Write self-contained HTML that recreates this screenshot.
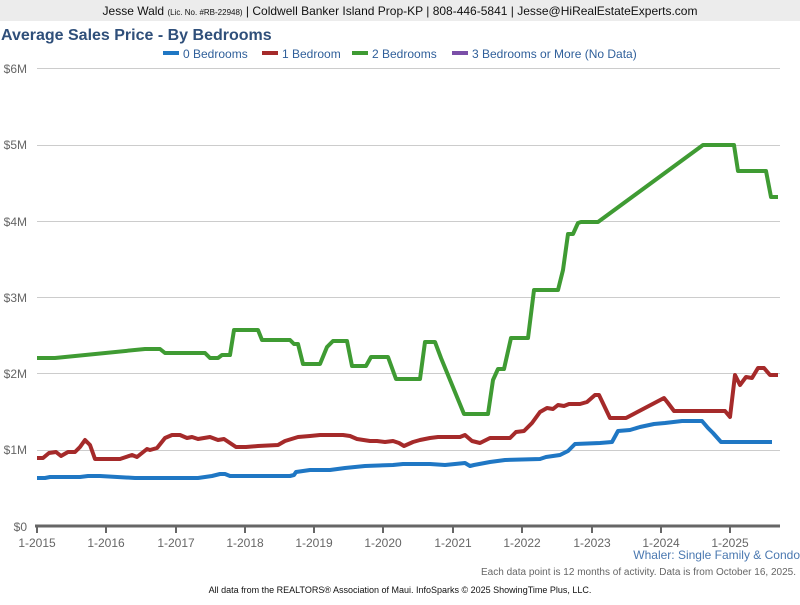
<!DOCTYPE html>
<html><head><meta charset="utf-8"><style>
body{margin:0;width:800px;height:600px;background:#fff;font-family:"Liberation Sans",Arial,sans-serif;overflow:hidden}
</style></head><body>
<svg width="800" height="600" xmlns="http://www.w3.org/2000/svg" font-family="Liberation Sans, Arial, sans-serif">
<rect x="0" y="0" width="800" height="21" fill="#ececec"/>
<text x="400" y="15" text-anchor="middle" font-size="12" fill="#111">Jesse Wald <tspan font-size="8">(Lic. No. #RB-22948)</tspan> | Coldwell Banker Island Prop-KP | 808-446-5841 | Jesse@HiRealEstateExperts.com</text>
<text x="1" y="40" font-size="16" font-weight="bold" fill="#2f4f7a">Average Sales Price - By Bedrooms</text>
<g font-size="12" fill="#2f5f9a">
<rect x="163" y="51" width="16" height="4" fill="#1f77c4"/><text x="183" y="58">0 Bedrooms</text>
<rect x="262" y="51" width="16" height="4" fill="#a52a2a"/><text x="282" y="58">1 Bedroom</text>
<rect x="352" y="51" width="16" height="4" fill="#3f9b33"/><text x="372" y="58">2 Bedrooms</text>
<rect x="452" y="51" width="16" height="4" fill="#7b4fa8"/><text x="472" y="58">3 Bedrooms or More (No Data)</text>
</g>
<g stroke="#ccc" stroke-width="1">
<line x1="37" y1="68.5" x2="780" y2="68.5"/><line x1="37" y1="145.5" x2="780" y2="145.5"/><line x1="37" y1="221.5" x2="780" y2="221.5"/><line x1="37" y1="297.5" x2="780" y2="297.5"/><line x1="37" y1="373.5" x2="780" y2="373.5"/><line x1="37" y1="450.5" x2="780" y2="450.5"/>
</g>
<g font-size="12" fill="#666" text-anchor="end">
<text x="27" y="73">$6M</text><text x="27" y="149">$5M</text><text x="27" y="226">$4M</text><text x="27" y="302">$3M</text><text x="27" y="378">$2M</text><text x="27" y="454">$1M</text><text x="27" y="531">$0</text>
</g>
<line x1="35" y1="526" x2="780" y2="526" stroke="#666" stroke-width="3"/>
<g stroke="#666" stroke-width="2">
<line x1="37" y1="526" x2="37" y2="533"/><line x1="106" y1="526" x2="106" y2="533"/><line x1="176" y1="526" x2="176" y2="533"/><line x1="245" y1="526" x2="245" y2="533"/><line x1="314" y1="526" x2="314" y2="533"/><line x1="383" y1="526" x2="383" y2="533"/><line x1="453" y1="526" x2="453" y2="533"/><line x1="522" y1="526" x2="522" y2="533"/><line x1="592" y1="526" x2="592" y2="533"/><line x1="661" y1="526" x2="661" y2="533"/><line x1="730" y1="526" x2="730" y2="533"/>
</g>
<g font-size="12" fill="#666" text-anchor="middle">
<text x="37" y="547">1-2015</text><text x="106" y="547">1-2016</text><text x="176" y="547">1-2017</text><text x="245" y="547">1-2018</text><text x="314" y="547">1-2019</text><text x="383" y="547">1-2020</text><text x="453" y="547">1-2021</text><text x="522" y="547">1-2022</text><text x="592" y="547">1-2023</text><text x="661" y="547">1-2024</text><text x="730" y="547">1-2025</text>
</g>
<g fill="none" stroke-width="4" stroke-linejoin="round">
<polyline stroke="#3f9b33" points="37,358 55,358 145,349 160,349 165,353 205,353 210,358 218,358 222,355 230,355 234,330 258,330 262,340 290,340 294,344 298,344 303,364 320,364 327,347 333,341 347,341 352,366 366,366 371,357 388,357 396,379 420,379 425,342 435,342 441,358 464,414 488,414 493,380 498,369 504,369 511,338 528,338 534,290 558,290 563,270 568,234 573,234 578,223 581,222 598,222 703,145 734,145 738,171 766,171 771,197 778,197"/>
<polyline stroke="#a52a2a" points="37,458 43,458 49,453 56,452 61,456 68,452 75,452 80,447 85,440 90,445 95,459 120,459 126,457 132,455 137,457 147,449 150,450 157,448 165,438 172,435 180,435 187,438 192,437 198,439 210,437 218,440 224,439 230,443 236,447 246,447 258,446 278,445 285,441 298,437 310,436 320,435 343,435 350,436 357,439 370,441 377,441 385,442 393,441 399,443 404,446 413,442 420,440 430,438 438,437 460,437 465,435 472,441 480,443 490,438 510,438 516,432 524,431 532,423 540,412 547,408 553,409 558,405 564,406 569,404 580,404 587,402 595,395 599,395 610,418 626,418 664,398 668,403 674,411 725,411 730,417 735,375 740,385 746,377 752,378 758,368 764,368 770,375 778,375"/>
<polyline stroke="#1f77c4" points="37,478 45,478 50,477 80,477 88,476 100,476 135,478 198,478 212,476 220,474 225,474 230,476 290,476 294,475 296,472 303,471 310,470 330,470 345,468 365,466 393,465 403,464 430,464 445,465 465,463 470,466 474,465 490,462 505,460 540,459 546,457 560,455 568,451 575,444 600,443 612,442 618,431 630,430 640,427 654,424 665,423 682,421 702,421 708,428 713,433 721,442 772,442"/>
</g>
<text x="800" y="559" text-anchor="end" font-size="12" fill="#4a78b0">Whaler: Single Family &amp; Condo</text>
<text x="796" y="575" text-anchor="end" font-size="10" fill="#666">Each data point is 12 months of activity. Data is from October 16, 2025.</text>
<text x="400" y="593" text-anchor="middle" font-size="9" fill="#111">All data from the REALTORS® Association of Maui. InfoSparks © 2025 ShowingTime Plus, LLC.</text>
</svg>
</body></html>
